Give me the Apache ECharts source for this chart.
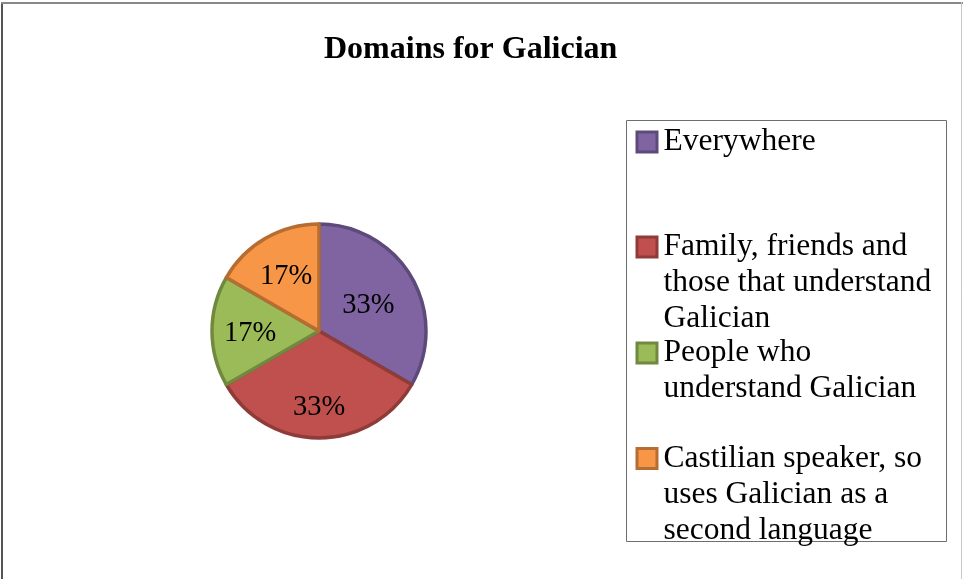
<!DOCTYPE html>
<html>
<head>
<meta charset="utf-8">
<script src="https://cdn.jsdelivr.net/npm/echarts@6/dist/echarts.min.js"></script>
<style>
  html, body { margin: 0; padding: 0; background: #fff; }
  #chart { width: 963px; height: 579px; }
</style>
</head>
<body>
<div id="chart"></div>
<script>
// Survey answers: where Galician is used
const categories = [
  'Everywhere',
  'Family, friends and those that understand Galician',
  'People who understand Galician',
  'Castilian speaker, so uses Galician as a second language'
];
const legendLines = [
  ['Everywhere'],
  ['Family, friends and', 'those that understand', 'Galician'],
  ['People who', 'understand Galician'],
  ['Castilian speaker, so', 'uses Galician as a', 'second language']
];
const values = [2, 2, 1, 1];

const fillColors = ['#8064A2', '#C0504D', '#9BBB59', '#F79646'];
const edgeColors = ['#5E4A7A', '#8E3B39', '#71893F', '#B66D31'];

const SERIF = '"Liberation Serif", "Times New Roman", serif';
const PIE_CENTER = [319, 331];
const PIE_RADIUS = 107;
const LABEL_DIST = [57, 74, 69, 66];      // distance of each percent label from the centre
const LABEL_BASELINE_SHIFT = 3;           // nudges the digits onto the label anchor
const LEGEND_TOPS = [126, 231, 337, 442.5];

const total = values.reduce((a, b) => a + b, 0);
// mid angle (radians, screen coordinates) of each slice, going clockwise from 12 o'clock
const midAngles = (() => {
  let acc = 0;
  return values.map(v => {
    const mid = (acc + v / 2) / total * 2 * Math.PI;
    acc += v;
    return mid;
  });
})();

const chart = echarts.init(document.getElementById('chart'), null, { renderer: 'canvas' });

// One legend block per entry so every entry sits at its own row in the frame
const legends = categories.map((name, i) => ({
  data: [name],
  orient: 'vertical',
  left: 633.5,
  top: LEGEND_TOPS[i],
  padding: 0,
  itemWidth: 0,
  itemHeight: 0,
  icon: 'none',
  selectedMode: false,
  formatter: () => legendLines[i]
    .map((line, k) => (k === 0 ? '{box|}{gap|}' : '{indent|}') + '{txt|' + line + '}')
    .join('\n'),
  textStyle: {
    rich: {
      box: {
        width: 17, height: 17, verticalAlign: 'middle',
        backgroundColor: fillColors[i], borderColor: edgeColors[i], borderWidth: 3
      },
      gap: { width: 8 },
      indent: { width: 25 },
      txt: { fontFamily: SERIF, fontSize: 31.5, lineHeight: 36, color: '#000' }
    }
  }
}));

chart.setOption({
  animation: false,
  backgroundColor: '#fff',
  title: {
    text: 'Domains for Galician',
    left: 324,
    top: 34,
    padding: 0,
    textStyle: { fontFamily: SERIF, fontSize: 32, fontWeight: 'bold', color: '#000' }
  },
  legend: legends,
  graphic: [
    { type: 'line', shape: { x1: 2, y1: 2, x2: 2, y2: 579 }, style: { stroke: '#555', lineWidth: 2 } },
    { type: 'line', shape: { x1: 1, y1: 3, x2: 963, y2: 3 }, style: { stroke: '#888', lineWidth: 2 } },
    { type: 'line', shape: { x1: 961.5, y1: 2, x2: 961.5, y2: 579 }, style: { stroke: '#c8c8c8', lineWidth: 1 } },
    {
      type: 'rect', z: -1,
      shape: { x: 626.5, y: 120.5, width: 320, height: 421 },
      style: { fill: 'none', stroke: '#6e6e6e', lineWidth: 1 }
    }
  ],
  series: [{
    type: 'pie',
    center: PIE_CENTER,
    radius: PIE_RADIUS,
    startAngle: 90,
    clockwise: true,
    data: categories.map((name, i) => ({
      name,
      value: values[i],
      itemStyle: { color: fillColors[i], borderColor: edgeColors[i], borderWidth: 3.5 }
    })),
    label: {
      show: true,
      position: 'inside',
      formatter: p => Math.round(p.percent) + '%',
      fontFamily: SERIF,
      fontSize: 28.5,
      color: '#000'
    },
    labelLine: { show: false },
    labelLayout: params => {
      const i = params.dataIndex;
      const a = midAngles[i];
      return {
        x: PIE_CENTER[0] + Math.sin(a) * LABEL_DIST[i],
        y: PIE_CENTER[1] - Math.cos(a) * LABEL_DIST[i] + LABEL_BASELINE_SHIFT,
        align: 'center',
        verticalAlign: 'middle'
      };
    },
    emphasis: { disabled: true }
  }]
});
</script>
</body>
</html>
